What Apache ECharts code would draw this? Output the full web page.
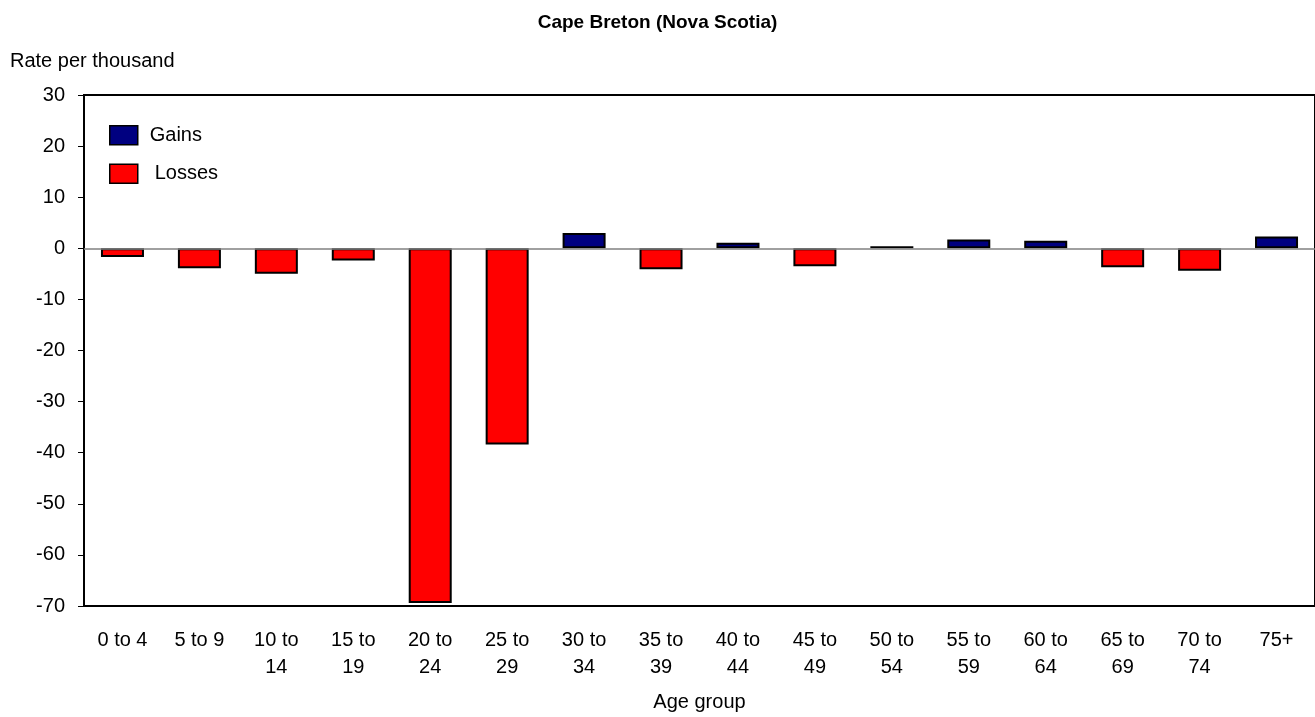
<!DOCTYPE html>
<html><head><meta charset="utf-8">
<script src="https://cdn.jsdelivr.net/npm/echarts@6/dist/echarts.min.js"></script>
<style>html,body{margin:0;padding:0;background:#fff}#c{width:1315px;height:717px}</style>
</head><body><div id="c"></div>
<script>
const categories = ['0 to 4','5 to 9','10 to\n14','15 to\n19','20 to\n24','25 to\n29','30 to\n34','35 to\n39','40 to\n44','45 to\n49','50 to\n54','55 to\n59','60 to\n64','65 to\n69','70 to\n74','75+'];
const rates = [-1.7,-3.9,-5.0,-2.4,-69.4,-38.4,3.0,-4.1,1.1,-3.5,0.4,1.7,1.5,-3.7,-4.4,2.3];
const gains = rates.map(v => v > 0 ? v : '-');
const losses = rates.map(v => v < 0 ? v : '-');
const F = '"Liberation Sans", Arial, sans-serif';
const chart = echarts.init(document.getElementById('c'));
chart.setOption({
  animation: false,
  textStyle: {fontFamily: F},
  title: {text: 'Cape Breton (Nova Scotia)', left: 'center', top: 8, textStyle: {fontFamily: F, fontSize: 19, fontWeight: 'bold', color: '#000'}},
  legend: {orient: 'vertical', left: 104, top: 120, itemWidth: 28, itemHeight: 19, itemGap: 18, icon: 'rect',
    itemStyle: {borderColor: '#000', borderWidth: 1.5},
    textStyle: {fontFamily: F, fontSize: 20, color: '#000', padding: [0, 0, 0, 7]},
    data: [{name: 'Gains'}, {name: 'Losses', textStyle: {padding: [0, 0, 0, 12]}}]},
  grid: {left: 84, right: -2, top: 95, bottom: 110, show: true, borderColor: '#000', borderWidth: 2},
  xAxis: {type: 'category', data: categories, name: 'Age group', nameLocation: 'middle', nameGap: 86,
    nameTextStyle: {fontFamily: F, fontSize: 20, color: '#000'},
    axisLine: {show: true, onZero: false, lineStyle: {color: '#000', width: 2}},
    axisTick: {show: false},
    axisLabel: {interval: 0, fontFamily: F, fontSize: 20, color: '#000', margin: 21, lineHeight: 27}},
  yAxis: {type: 'value', min: -70, max: 30, interval: 10, name: 'Rate per thousand', nameLocation: 'end', nameGap: 24,
    nameTextStyle: {fontFamily: F, fontSize: 20, color: '#000', align: 'left', padding: [0, 0, 0, -74]},
    axisLine: {show: true, lineStyle: {color: '#000', width: 2}},
    axisTick: {show: true, length: 6, lineStyle: {color: '#000'}},
    splitLine: {show: false},
    axisLabel: {fontFamily: F, fontSize: 20, color: '#000', margin: 19}},
  series: [
    {name: 'Gains', type: 'bar', stack: 'a', data: gains, barWidth: 43,
     itemStyle: {color: '#000080', borderColor: '#000', borderWidth: 2},
     markLine: {silent: true, symbol: 'none', label: {show: false}, lineStyle: {color: '#808080', width: 1.5, type: 'solid'}, data: [{yAxis: 0}]}},
    {name: 'Losses', type: 'bar', stack: 'a', data: losses, barWidth: 43,
     itemStyle: {color: '#ff0000', borderColor: '#000', borderWidth: 2}}
  ]
});
</script></body></html>
